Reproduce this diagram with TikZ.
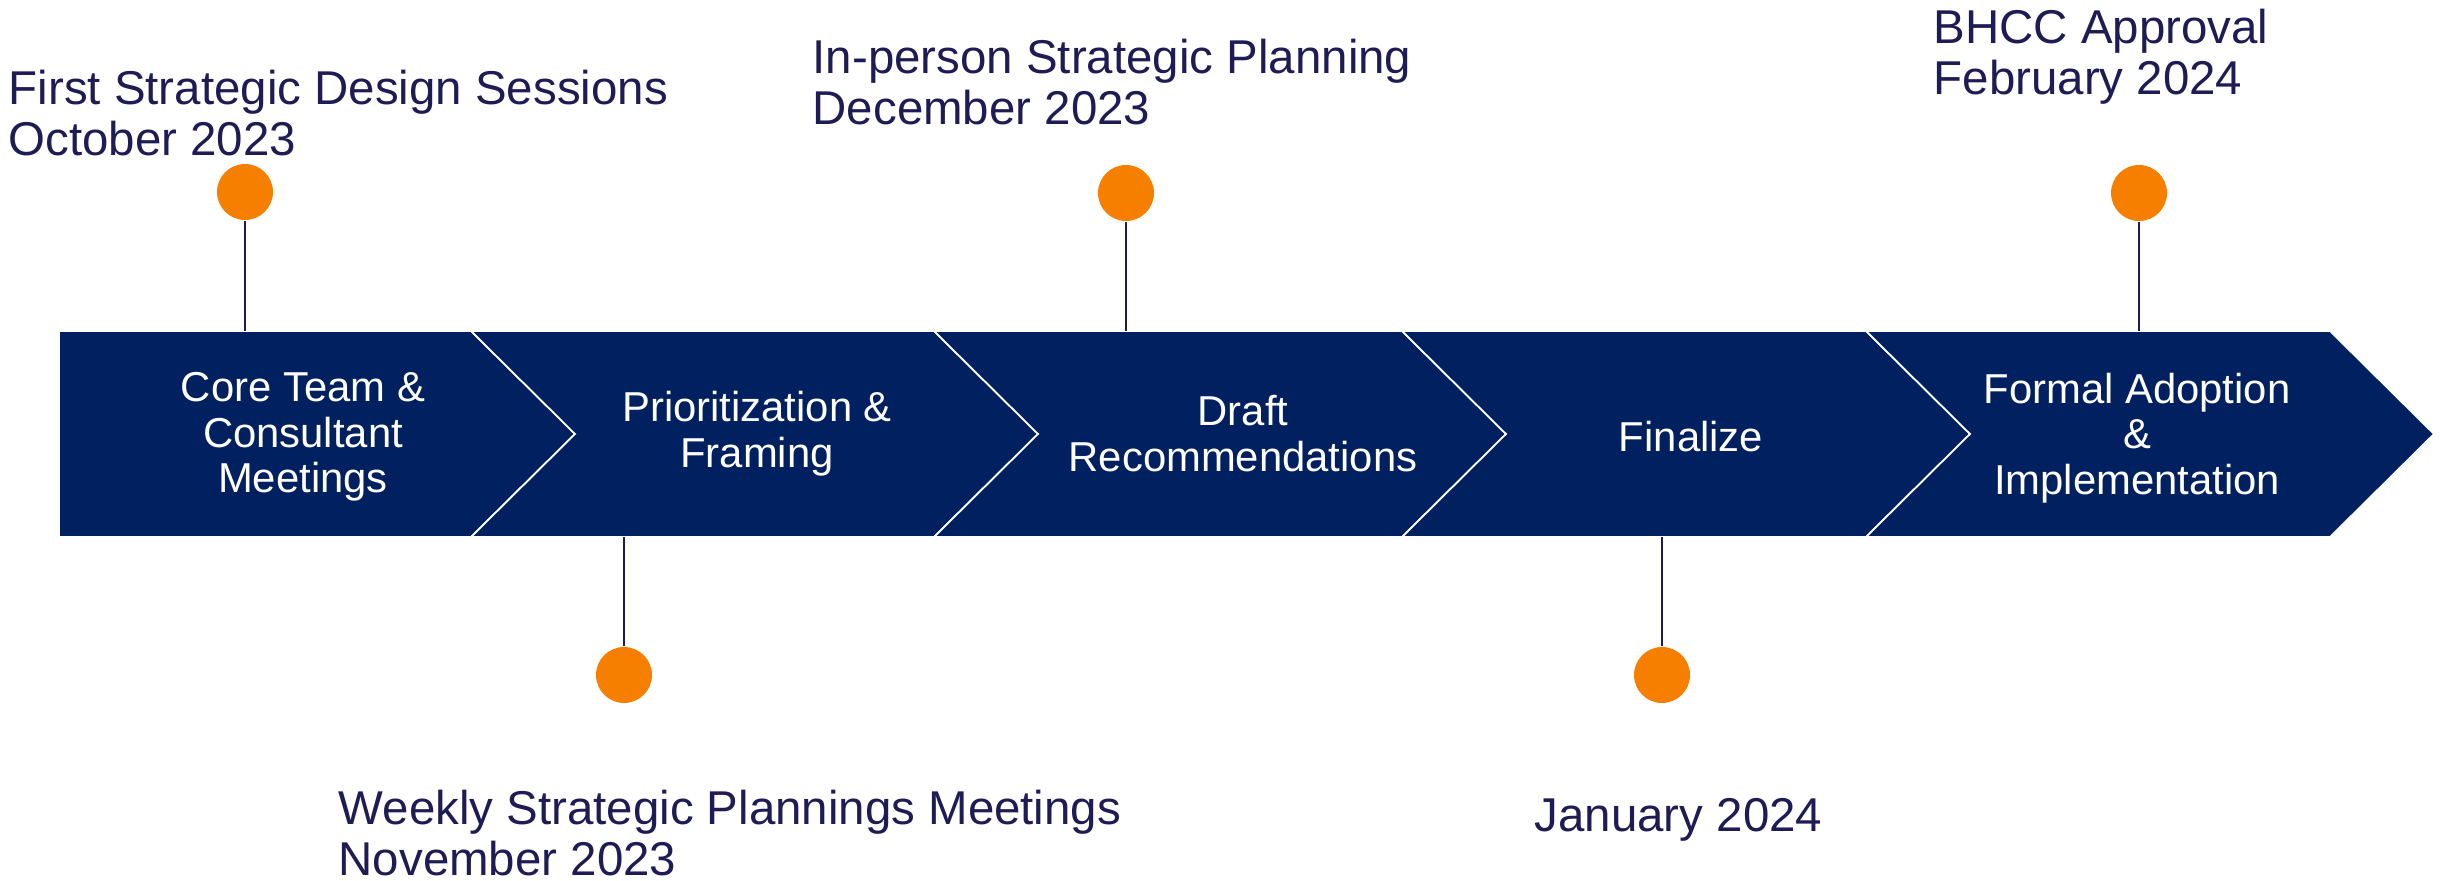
\documentclass[tikz,border=0pt]{standalone}
\usepackage{fontspec}
\setmainfont{Liberation Sans}
\usepackage{tikz}
\usetikzlibrary{positioning}

\definecolor{navy}{HTML}{002060}
\definecolor{tinte}{HTML}{1F1B54}
\definecolor{orangepunkt}{HTML}{F77F00}

\begin{document}
\begin{tikzpicture}[
    punkt/.style={circle,fill=orangepunkt,inner sep=0pt,minimum size=0.56cm},
    linie/.style={draw=tinte,line width=0.6pt},
    datum/.style={text=tinte,align=left,anchor=north west,inner sep=0pt,
        font=\fontsize{13.5}{14.5}\selectfont},
    phase/.style={text=white,align=center,inner sep=0pt,
        font=\fontsize{11.9}{13}\selectfont}
]
    \useasboundingbox (0,0) rectangle (24.45,8.80);
    % Hoehe der Pfeile und Tiefe der Spitze
    \def\oben{5.49}
    \def\unten{3.43}
    \def\mitte{4.46}
    \def\d{1.04}

    % Pfeile (links, rechts, Kerbe)
    \foreach \a/\b/\n in {0.59/4.71/0, 4.71/9.34/\d, 9.34/14.02/\d, 14.02/18.66/\d, 18.66/23.30/\d} {
        \filldraw[fill=navy,draw=white,line width=0.5pt]
            (\a,\oben) -- (\b,\oben) -- (\b+\d,\mitte) -- (\b,\unten)
            -- (\a,\unten) -- (\a+\n,\mitte) -- cycle;
    }

    % Texte in den Pfeilen
    \node[phase] (c1) at (3.03,4.43) {Core Team \&\\Consultant\\Meetings};
    \node[phase] (c2) at (7.57,4.46) {Prioritization \&\\Framing};
    \node[phase] (c3) at (12.43,4.465) {Draft\\Recommendations};
    \node[phase] (c4) at (16.91,4.43) {Finalize};
    \node[phase] (c5) at (21.37,4.42) {Formal Adoption\\\&\\Implementation};

    % Punkte
    \node[punkt] (d1) at (2.45,6.88) {};
    \node[punkt] (d2) at (6.24,2.05) {};
    \node[punkt] (d3) at (11.26,6.87) {};
    \node[punkt] (d4) at (16.62,2.05) {};
    \node[punkt] (d5) at (21.39,6.87) {};

    % Anschlusspunkte an den Pfeilen
    \coordinate (p1) at (2.45,\oben);
    \coordinate (p2) at (6.24,\unten);
    \coordinate (p3) at (11.26,\oben);
    \coordinate (p4) at (16.62,\unten);
    \coordinate (p5) at (21.39,\oben);

    \foreach \i in {1,...,5} {
        \draw[linie] (d\i) -- (p\i);
    }

    % Beschriftungen
    \node[datum] (l1) at (0.08,8.11) {First Strategic Design Sessions\\October 2023};
    \node[datum] (l2) at (3.38,0.91) {Weekly Strategic Plannings Meetings\\November 2023};
    \node[datum] (l3) at (8.12,8.42) {In-person Strategic Planning\\December 2023};
    \node[datum] (l4) at (15.34,0.82) {January 2024};
    \node[datum] (l5) at (19.33,8.72) {BHCC Approval\\February 2024};
\end{tikzpicture}
\end{document}
